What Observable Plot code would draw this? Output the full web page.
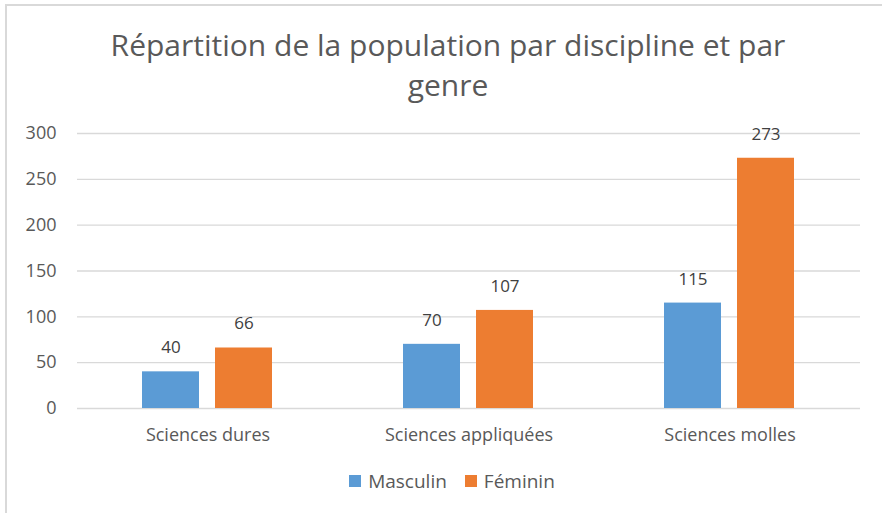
<!DOCTYPE html>
<html>
<head>
<meta charset="utf-8">
<script src="https://cdn.jsdelivr.net/npm/d3@7"></script>
<script src="https://cdn.jsdelivr.net/npm/@observablehq/plot@0.6"></script>
<style>
  html, body { margin: 0; padding: 0; background: #fff; }
  #wrap { position: relative; width: 882px; height: 513px; overflow: hidden; font-family: "Open Sans", sans-serif; }
  #bl { position: absolute; left: 5px; top: 4px; width: 2px; height: 520px; background: #d9d9d9; }
  #bt { position: absolute; left: 5px; top: 4px; width: 900px; height: 2px; background: #d9d9d9; }
  #title { box-sizing: border-box; width: 882px; padding-top: 25px; padding-left: 14px; text-align: center; font-size: 30px; line-height: 40px; color: #595959; height: 105px; }
  #legend { display: flex; justify-content: center; align-items: center; font-size: 19px; color: #595959; height: 48px; padding-left: 22px; box-sizing: border-box; }
  .item { display: flex; align-items: center; margin: 0 9px; }
  .sw { width: 12px; height: 12px; margin-right: 7px; }
</style>
</head>
<body>
<div id="wrap">
  <div id="bl"></div><div id="bt"></div>
  <div id="title"></div>
  <div id="chart"></div>
  <div id="legend"></div>
</div>
<script>
const title = ["Répartition de la population par discipline et par", "genre"];
const disciplines = ["Sciences dures", "Sciences appliquées", "Sciences molles"];
const genres = ["Masculin", "Féminin"];
const masculin = [40, 70, 115];
const feminin = [66, 107, 273];
const colors = ["#5B9BD5", "#ED7D31"];
const yTicks = [0, 50, 100, 150, 200, 250, 300];

document.getElementById("title").innerHTML = title.join("<br>");

const data = [];
disciplines.forEach((d, i) => {
  data.push({discipline: d, genre: genres[0], value: masculin[i]});
  data.push({discipline: d, genre: genres[1], value: feminin[i]});
});

const chart = Plot.plot({
  width: 882,
  height: 352,
  marginTop: 28,
  marginBottom: 49,
  marginLeft: 76,
  marginRight: 21,
  style: {fontFamily: "Open Sans, sans-serif", fontSize: "17px", color: "#595959", background: "transparent"},
  fx: {domain: disciplines, paddingInner: 0, paddingOuter: 0, label: null, axis: null},
  x: {domain: genres, paddingInner: 0.216, paddingOuter: 0.876, axis: null},
  y: {domain: [0, 300], label: null},
  color: {domain: genres, range: colors},
  marks: [
    Plot.gridY(yTicks, {stroke: "#d9d9d9", strokeOpacity: 1, strokeWidth: 1.3}),
    Plot.axisY(yTicks, {tickSize: 0, tickPadding: 21, fill: "#595959", fontSize: 18}),
    Plot.axisFx({anchor: "bottom", tickSize: 0, tickPadding: 20, fill: "#595959", fontSize: 18, label: null}),
    Plot.barY(data, {fx: "discipline", x: "genre", y: "value", fill: "genre"}),
    Plot.text(data, {fx: "discipline", x: "genre", y: "value", text: d => String(d.value), dy: -24, fill: "#404040", fontSize: 17})
  ]
});
document.getElementById("chart").appendChild(chart);

const legend = document.getElementById("legend");
genres.forEach((g, i) => {
  const it = document.createElement("div");
  it.className = "item";
  it.innerHTML = `<span class="sw" style="background:${colors[i]}"></span><span>${g}</span>`;
  legend.appendChild(it);
});
</script>
</body>
</html>
